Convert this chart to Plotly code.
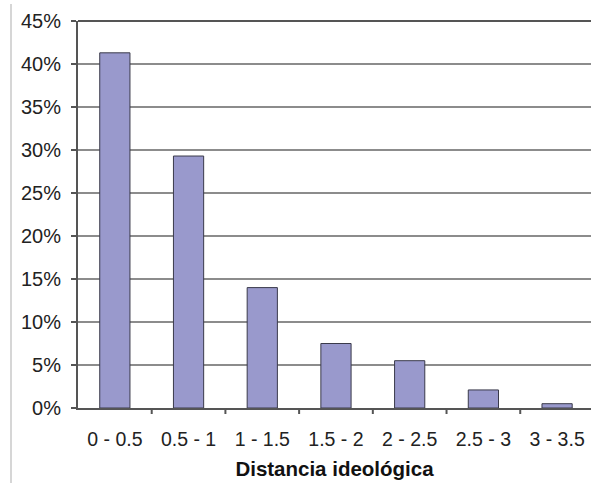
import plotly.graph_objects as go

# Share of cases by ideological distance band
categories = ["0 - 0.5", "0.5 - 1", "1 - 1.5", "1.5 - 2", "2 - 2.5", "2.5 - 3", "3 - 3.5"]
shares = [41.3, 29.3, 14.0, 7.5, 5.5, 2.1, 0.5]
y_ticks = [0, 5, 10, 15, 20, 25, 30, 35, 40, 45]
y_tick_labels = [f"{v}%" for v in y_ticks]

font_family = "Liberation Sans, Arial, sans-serif"

fig = go.Figure(
    go.Bar(
        x=list(range(len(categories))),
        y=shares,
        width=0.41,
        marker=dict(color="#9999cc", line=dict(color="#3a3a4a", width=1)),
    )
)

fig.update_layout(
    width=591,
    height=483,
    margin=dict(l=78, r=0, t=21, b=75),
    plot_bgcolor="white",
    paper_bgcolor="white",
    showlegend=False,
    font=dict(family=font_family, size=19, color="#222222"),
)

fig.update_xaxes(
    range=[-0.5, 6.46],
    tickmode="array",
    tickvals=list(range(len(categories))),
    ticktext=categories,
    ticks="",
    showgrid=False,
    showline=True,
    linecolor="#555555",
    linewidth=2,
    zeroline=False,
    tickfont=dict(size=19.5),
    ticklabelstandoff=13,
    title=dict(
        text="<b>Distancia ideológica</b>",
        font=dict(size=20.5, color="#111111"),
        standoff=12,
    ),
)

fig.update_yaxes(
    range=[0, 45],
    tickmode="array",
    tickvals=y_ticks,
    ticktext=y_tick_labels,
    ticks="outside",
    ticklen=5,
    tickcolor="#555555",
    tickwidth=2,
    showline=True,
    linecolor="#555555",
    linewidth=2,
    showgrid=True,
    gridcolor="#8c8c8c",
    gridwidth=2,
    zeroline=False,
    tickfont=dict(size=20),
    ticklabelstandoff=6,
)

# Category boundary tick marks below the baseline
for i in range(1, len(categories)):
    fig.add_shape(
        type="line",
        xref="x",
        yref="paper",
        x0=i - 0.5,
        x1=i - 0.5,
        y0=0,
        y1=-6 / 387,
        line=dict(color="#555555", width=2),
    )

# Top border of the plot area
fig.add_shape(
    type="line",
    xref="paper",
    yref="paper",
    x0=0,
    x1=1,
    y0=1,
    y1=1,
    line=dict(color="#555555", width=2),
)

# Thin vertical rule at the left of the page
fig.add_shape(
    type="line",
    xref="paper",
    yref="paper",
    x0=(11 - 78) / 513,
    x1=(11 - 78) / 513,
    y0=(408 - 4) / 387,
    y1=(408 - 483) / 387,
    line=dict(color="#c8c8c8", width=1.5),
)

fig.write_html("out.html")
